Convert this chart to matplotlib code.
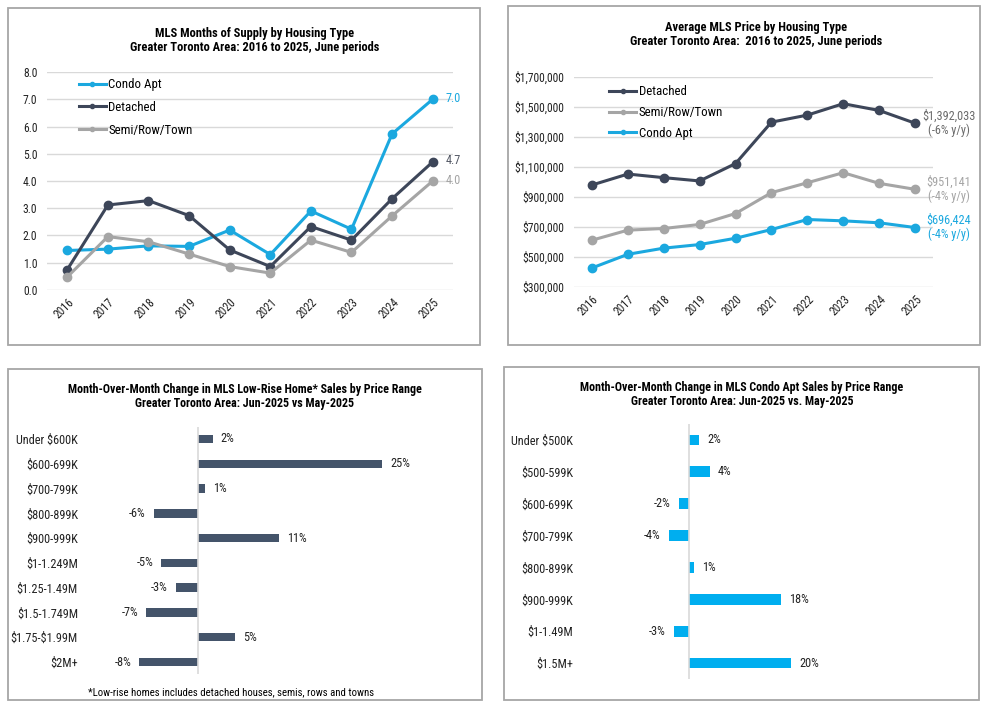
import matplotlib
matplotlib.use("Agg")
import matplotlib.pyplot as plt
from matplotlib import font_manager
from matplotlib.patches import Rectangle
from matplotlib.lines import Line2D
from matplotlib.ticker import FuncFormatter

# the reference uses an Arial Narrow look; pick a narrow sans that also has a bold face
weights = {}
for f in font_manager.fontManager.ttflist:
    if f.style == 'normal':
        weights.setdefault(f.name, set()).add(int(f.weight) if str(f.weight).isdigit() else f.weight)
FAMILY = 'Liberation Sans'
FS = 0.9
for cand in ['Roboto Condensed', 'Archivo Narrow', 'PT Sans Narrow', 'Asap Condensed',
             'Barlow Semi Condensed']:
    w = weights.get(cand, set())
    if 400 in w and (700 in w or 600 in w):
        FAMILY, FS = cand, 0.93
        break
plt.rcParams['font.family'] = [FAMILY, 'DejaVu Sans']

W, H = 987, 707

# ---- data ----
years = ['2016', '2017', '2018', '2019', '2020', '2021', '2022', '2023', '2024', '2025']

supply_condo = [1.45, 1.5, 1.62, 1.6, 2.2, 1.3, 2.9, 2.23, 5.73, 7.0]
supply_detached = [0.75, 3.12, 3.28, 2.73, 1.47, 0.86, 2.33, 1.83, 3.35, 4.7]
supply_semi = [0.48, 1.96, 1.77, 1.32, 0.86, 0.62, 1.83, 1.38, 2.72, 4.0]

price_detached = [980000, 1053000, 1029000, 1007000, 1123000, 1399000, 1446000, 1522000, 1477000, 1392033]
price_semi = [612000, 679000, 690000, 717000, 790000, 929000, 995000, 1062000, 991000, 951141]
price_condo = [427000, 518000, 559000, 583000, 625000, 683000, 750000, 741000, 728000, 696424]
price_yoy = {'Detached': '-6%', 'Semi/Row/Town': '-4%', 'Condo Apt': '-4%'}

lowrise_ranges = ['Under $600K', '$600-699K', '$700-799K', '$800-899K', '$900-999K',
                  '$1-1.249M', '$1.25-1.49M', '$1.5-1.749M', '$1.75-$1.99M', '$2M+']
lowrise_change = [2, 25, 1, -6, 11, -5, -3, -7, 5, -8]

condo_ranges = ['Under $500K', '$500-599K', '$600-699K', '$700-799K', '$800-899K',
                '$900-999K', '$1-1.49M', '$1.5M+']
condo_change = [2, 4, -2, -4, 1, 18, -3, 20]

# ---- colours ----
C_CONDO = '#1BA8DF'
C_DET = '#3D4659'
C_SEMI = '#A5A5A5'
C_BAR_LR = '#44546A'
C_BAR_CO = '#00AEEF'
C_GRID = '#D9D9D9'


def px_axes(fig, x0, y0, x1, y1):
    # pixel box (top-left origin) -> figure axes
    return fig.add_axes([x0 / W, 1 - y1 / H, (x1 - x0) / W, (y1 - y0) / H])


def box(fig, x0, y0, x1, y1):
    fig.add_artist(Rectangle((x0 / W, 1 - y1 / H), (x1 - x0) / W, (y1 - y0) / H,
                             transform=fig.transFigure, fill=False,
                             ec='#A6A6A6', lw=1.3))


def ftext(fig, x, y, s, **kw):
    fig.text(x / W, 1 - y / H, s, parse_math=False, **kw)


def style_line_axes(ax):
    for s in ax.spines.values():
        s.set_visible(False)
    ax.grid(axis='y', color=C_GRID, lw=1)
    ax.set_axisbelow(True)
    ax.tick_params(length=0, labelsize=9 * FS, colors='#222222')
    ax.tick_params(axis='y', pad=7)
    ax.tick_params(axis='x', pad=4)
    ax.set_xlim(-0.5, len(years) - 0.5)
    ax.set_xticks(range(len(years)))
    ax.set_xticklabels(years, rotation=45, ha='right', rotation_mode='anchor')


fig = plt.figure(figsize=(W / 100, H / 100), dpi=100)

box(fig, 8, 8, 480, 345)
box(fig, 508, 6, 980, 345)
box(fig, 8, 369, 482, 700)
box(fig, 504, 367, 979, 700)

x = list(range(len(years)))

# ---- top left: months of supply ----
ax1 = px_axes(fig, 47, 72, 453, 290)
series1 = [('Condo Apt', supply_condo, C_CONDO, C_CONDO),
           ('Detached', supply_detached, C_DET, '#555A66'),
           ('Semi/Row/Town', supply_semi, C_SEMI, C_SEMI)]
handles = []
for name, vals, col, lab_col in series1:
    ax1.plot(x, vals, color=col, lw=2.2, marker='o', ms=6)
    handles.append(Line2D([], [], color=col, lw=2.2, marker='o', ms=3, label=name))
    ax1.annotate(f'{vals[-1]:.1f}', xy=(x[-1], vals[-1]), xytext=(13, 1),
                 textcoords='offset pixels', ha='left', va='center',
                 fontsize=9.5 * FS, color=lab_col)
ax1.set_ylim(0, 8)
ax1.set_yticks(range(0, 9))
ax1.yaxis.set_major_formatter(FuncFormatter(lambda v, p: f'{v:.1f}'))
style_line_axes(ax1)
ax1.legend(handles=handles, loc='upper left', bbox_to_anchor=(0.065, 0.995),
           frameon=False, fontsize=10 * FS, handlelength=2.1, handletextpad=0.2,
           labelspacing=0.75, borderaxespad=0)
ftext(fig, 255, 33, 'MLS Months of Supply by Housing Type', ha='center', va='center',
      fontsize=9.7 * FS, fontweight='bold')
ftext(fig, 255, 48, 'Greater Toronto Area: 2016 to 2025, June periods', ha='center',
      va='center', fontsize=9.7 * FS, fontweight='bold')

# ---- top right: average price ----
ax2 = px_axes(fig, 574, 77, 933, 287)
series2 = [('Detached', price_detached, C_DET, '#6B6B6B'),
           ('Semi/Row/Town', price_semi, C_SEMI, C_SEMI),
           ('Condo Apt', price_condo, C_CONDO, C_CONDO)]
handles = []
for name, vals, col, lab_col in series2:
    ax2.plot(x, vals, color=col, lw=2.2, marker='o', ms=6)
    handles.append(Line2D([], [], color=col, lw=2.2, marker='o', ms=3, label=name))
    ax2.annotate(f'${vals[-1]:,.0f}\n({price_yoy[name]} y/y)', xy=(x[-1], vals[-1]),
                 xytext=(34, 0), textcoords='offset pixels', ha='center', va='center',
                 fontsize=9.5 * FS, color=lab_col, linespacing=1.05, parse_math=False)
ax2.set_ylim(300000, 1700000)
ax2.set_yticks(range(300000, 1700001, 200000))
ax2.yaxis.set_major_formatter(FuncFormatter(lambda v, p: f'${v:,.0f}'))
style_line_axes(ax2)
for t in ax2.get_yticklabels():
    t.set_parse_math(False)
ax2.legend(handles=handles, loc='upper left', bbox_to_anchor=(0.083, 0.985),
           frameon=False, fontsize=10 * FS, handlelength=2.1, handletextpad=0.2,
           labelspacing=0.6, borderaxespad=0)
ftext(fig, 756, 27, 'Average MLS Price by Housing Type', ha='center', va='center',
      fontsize=9.7 * FS, fontweight='bold')
ftext(fig, 756, 41, 'Greater Toronto Area:  2016 to 2025, June periods', ha='center',
      va='center', fontsize=9.7 * FS, fontweight='bold')


def bar_panel(ax, labels, vals, color, xlim):
    y = list(range(len(labels)))
    ax.barh(y, vals, height=0.34, color=color)
    ax.set_ylim(len(labels) - 0.5, -0.5)
    ax.set_xlim(*xlim)
    ax.set_yticks(y)
    ax.set_yticklabels(labels, parse_math=False)
    ax.set_xticks([])
    for s in ax.spines.values():
        s.set_visible(False)
    ax.axvline(0, color=C_GRID, lw=1.2)
    ax.tick_params(axis='y', length=0, labelsize=9.5 * FS, pad=5, colors='#222222')
    for yi, v in zip(y, vals):
        ax.annotate(f'{v}%', xy=(v, yi), xytext=(8 if v >= 0 else -8, 0),
                    textcoords='offset pixels', ha='left' if v >= 0 else 'right',
                    va='center', fontsize=9.5 * FS, color='#222222')


# ---- bottom left: low-rise sales change ----
ax3 = px_axes(fig, 85, 426.6, 460, 674.4)
bar_panel(ax3, lowrise_ranges, lowrise_change, C_BAR_LR, (-15.35, 35.6))
ftext(fig, 245, 389, 'Month-Over-Month Change in MLS Low-Rise Home* Sales by Price Range',
      ha='center', va='center', fontsize=9.3 * FS, fontweight='bold')
ftext(fig, 245, 403, 'Greater Toronto Area: Jun-2025 vs May-2025', ha='center',
      va='center', fontsize=9.3 * FS, fontweight='bold')
ftext(fig, 231, 692, '*Low-rise homes includes detached houses, semis, rows and towns',
      ha='center', va='center', fontsize=8.3 * FS)

# ---- bottom right: condo sales change ----
ax4 = px_axes(fig, 580, 424, 960, 679)
bar_panel(ax4, condo_ranges, condo_change, C_BAR_CO, (-21.4, 53.1))
ftext(fig, 742, 387, 'Month-Over-Month Change in MLS Condo Apt Sales by Price Range',
      ha='center', va='center', fontsize=9.3 * FS, fontweight='bold')
ftext(fig, 742, 401, 'Greater Toronto Area: Jun-2025 vs. May-2025', ha='center',
      va='center', fontsize=9.3 * FS, fontweight='bold')

fig.savefig('out.png', dpi=100)
